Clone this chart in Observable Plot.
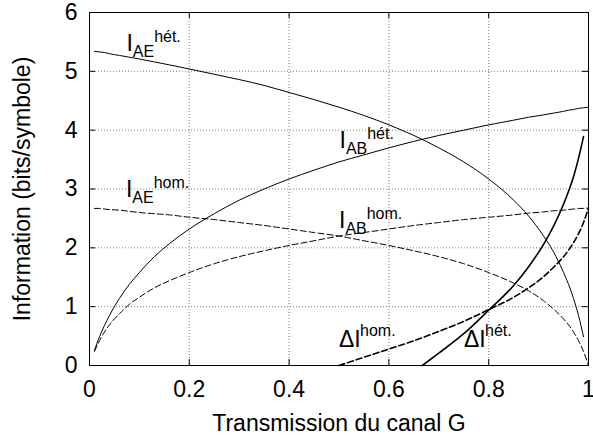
<!DOCTYPE html>
<html>
<head>
<meta charset="utf-8">
<script src="https://cdn.jsdelivr.net/npm/d3@7"></script>
<script src="https://cdn.jsdelivr.net/npm/@observablehq/plot@0.6"></script>
<style>
  html, body { margin: 0; padding: 0; background: #fff; }
</style>
</head>
<body>
<div id="chart"></div>
<script>
// Transmission values G (x)
const G = [0.01,0.02,0.03,0.04,0.06,0.08,0.1,0.13,0.16,0.2,0.25,0.3,0.35,0.4,0.45,0.5,0.55,0.6,0.65,0.7,0.75,0.8,0.85,0.88,0.91,0.93,0.95,0.96,0.97,0.98,0.99,1.0];
// I_AB hét. (solid)
const iabHet = [0.26,0.49,0.68,0.85,1.14,1.38,1.58,1.85,2.07,2.32,2.58,2.81,3.00,3.17,3.32,3.46,3.58,3.70,3.81,3.91,4.00,4.09,4.17,4.22,4.26,4.29,4.32,4.34,4.35,4.37,4.38,4.39];
// I_AE hét. (solid), up to G = 0.99
const gAeHet = [0.01,0.02,0.03,0.04,0.06,0.08,0.1,0.13,0.16,0.2,0.25,0.3,0.35,0.4,0.45,0.5,0.55,0.6,0.65,0.7,0.75,0.8,0.85,0.88,0.91,0.93,0.95,0.96,0.97,0.98,0.99];
const iaeHet = [5.34,5.33,5.32,5.30,5.27,5.24,5.21,5.16,5.11,5.04,4.95,4.86,4.76,4.64,4.52,4.39,4.25,4.09,3.91,3.70,3.46,3.17,2.81,2.54,2.20,1.93,1.58,1.38,1.14,0.85,0.49];
// I_AB hom. (dashed)
const iabHom = [0.24,0.42,0.57,0.69,0.88,1.04,1.16,1.32,1.44,1.58,1.73,1.85,1.95,2.04,2.12,2.20,2.26,2.32,2.38,2.43,2.48,2.52,2.56,2.59,2.61,2.63,2.64,2.65,2.66,2.67,2.67,2.68];
// I_AE hom. (dashed)
const iaeHom = [2.67,2.67,2.66,2.65,2.64,2.62,2.60,2.58,2.56,2.52,2.48,2.43,2.38,2.32,2.26,2.20,2.12,2.04,1.95,1.85,1.73,1.58,1.40,1.27,1.10,0.96,0.79,0.69,0.57,0.42,0.24,0.00];
// ΔI hom. (dashed, bold)
const gDHom = [0.5,0.55,0.6,0.65,0.7,0.75,0.8,0.85,0.88,0.91,0.93,0.95,0.96,0.97,0.98,0.99,1.0];
const dHom  = [0,0.14,0.28,0.42,0.58,0.75,0.95,1.16,1.32,1.51,1.67,1.85,1.96,2.09,2.24,2.43,2.68];
// ΔI hét. (solid, bold)
const gDHet = [0.667,0.7,0.75,0.8,0.85,0.88,0.91,0.93,0.95,0.96,0.97,0.98,0.99];
const dHet  = [0,0.21,0.54,0.94,1.36,1.68,2.06,2.37,2.74,2.96,3.21,3.52,3.89];

// Ticks
const xTicks = [0,0.2,0.4,0.6,0.8,1];
const xTickLabels = ["0","0.2","0.4","0.6","0.8","1"];
const yTicks = [0,1,2,3,4,5,6];

// Curve labels (anchor of main glyph, in data units)
const labelMain = ["I","I","I","I","ΔI","ΔI"];
const labelSub  = ["AE","AB","AE","AB","",""];
const labelSup  = ["hét.","hét.","hom.","hom.","hom.","hét."];
const labelX    = [0.074,0.501,0.073,0.500,0.500,0.7505];
const labelY    = [5.35,3.69,2.86,2.33,0.31,0.31];

const xTitle = "Transmission du canal G";
const yTitle = "Information (bits/symbole)";

const toRows = (xs, ys) => xs.map((x, i) => ({x, y: ys[i]}));
const labels = labelMain.map((m, i) => ({main: m, sub: labelSub[i], sup: labelSup[i], x: labelX[i], y: labelY[i]}));
const withSub = labels.filter(d => d.sub);
const noSub = labels.filter(d => !d.sub);

const W = 593, H = 437, mL = 89, mR = 5, mT = 12, mB = 72;
const fw = W - mL - mR, fh = H - mT - mB;
const tick = 6;
const gridStyle = {stroke: "#808080", strokeOpacity: 1, strokeWidth: 1, strokeDasharray: "1,2"};
const font = "'Liberation Sans', Arial, Helvetica, sans-serif";

const chart = Plot.plot({
  width: W, height: H,
  marginLeft: mL, marginRight: mR, marginTop: mT, marginBottom: mB,
  style: {fontFamily: font, fontSize: "23px", background: "#fff", color: "#000"},
  x: {domain: [0, 1]},
  y: {domain: [0, 6]},
  marks: [
    Plot.gridX(xTicks, gridStyle),
    Plot.gridY(yTicks, gridStyle),
    // inward ticks on all four sides
    Plot.ruleX(xTicks, {x: d => d, insetTop: fh - tick, stroke: "#000"}),
    Plot.ruleX(xTicks, {x: d => d, insetBottom: fh - tick, stroke: "#000"}),
    Plot.ruleY(yTicks, {y: d => d, insetRight: fw - tick, stroke: "#000"}),
    Plot.ruleY(yTicks, {y: d => d, insetLeft: fw - tick, stroke: "#000"}),
    Plot.axisX({ticks: xTicks, tickFormat: d => xTickLabels[xTicks.indexOf(d)], tickSize: 0, tickPadding: 15,
      label: xTitle, labelAnchor: "center", labelArrow: "none", labelOffset: 65, fontSize: 23}),
    Plot.axisY({ticks: yTicks, tickFormat: d => String(d), tickSize: 0, tickPadding: 12,
      label: yTitle, labelAnchor: "center", labelArrow: "none", labelOffset: 76, fontSize: 23}),
    // curves
    Plot.line(toRows(G, iabHet), {x: "x", y: "y", stroke: "#000", strokeWidth: 1, curve: "monotone-x"}),
    Plot.line(toRows(gAeHet, iaeHet), {x: "x", y: "y", stroke: "#000", strokeWidth: 1, curve: "monotone-x"}),
    Plot.line(toRows(G, iabHom), {x: "x", y: "y", stroke: "#000", strokeWidth: 1, strokeDasharray: "6,3", curve: "monotone-x"}),
    Plot.line(toRows(G, iaeHom), {x: "x", y: "y", stroke: "#000", strokeWidth: 1, strokeDasharray: "6,3", curve: "monotone-x"}),
    Plot.line(toRows(gDHom, dHom), {x: "x", y: "y", stroke: "#000", strokeWidth: 1.6, strokeDasharray: "6,3", curve: "monotone-x"}),
    Plot.line(toRows(gDHet, dHet), {x: "x", y: "y", stroke: "#000", strokeWidth: 1.6, curve: "monotone-x"}),
    Plot.frame({stroke: "#000", strokeWidth: 1}),
    // labels
    Plot.text(labels, {x: "x", y: "y", text: "main", textAnchor: "start", lineAnchor: "bottom", fontSize: 23, fill: "#000"}),
    Plot.text(withSub, {x: "x", y: "y", text: "sub", textAnchor: "start", lineAnchor: "bottom", dx: 6.4, dy: 6, fontSize: 16, fill: "#000"}),
    Plot.text(withSub, {x: "x", y: "y", text: "sup", textAnchor: "start", lineAnchor: "bottom", dx: 27.7, dy: -9, fontSize: 16, fill: "#000"}),
    Plot.text(noSub, {x: "x", y: "y", text: "sup", textAnchor: "start", lineAnchor: "bottom", dx: 21, dy: -11, fontSize: 16, fill: "#000"})
  ]
});
document.getElementById("chart").appendChild(chart);
</script>
</body>
</html>
